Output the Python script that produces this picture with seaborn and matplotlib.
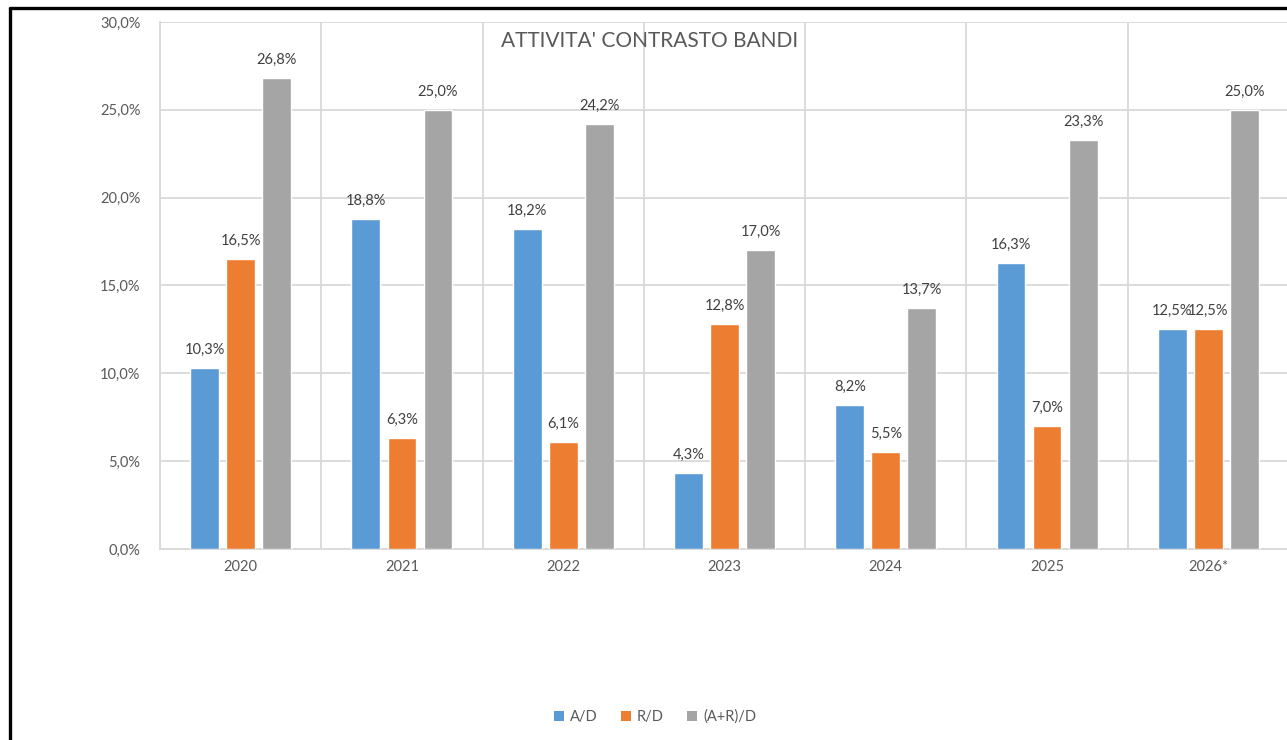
import numpy as np
import pandas as pd
import matplotlib
matplotlib.use('Agg')
import matplotlib.pyplot as plt
from matplotlib.lines import Line2D
from matplotlib.patches import Patch
import seaborn as sns

# dati
anni = ['2020', '2021', '2022', '2023', '2024', '2025', '2026*']
serie = ['A/D', 'R/D', '(A+R)/D']
a_d = [10.3, 18.8, 18.2, 4.3, 8.2, 16.3, 12.5]
r_d = [16.5, 6.3, 6.1, 12.8, 5.5, 7.0, 12.5]
ar_d = [26.8, 25.0, 24.2, 17.0, 13.7, 23.3, 25.0]
colori = ['#5B9BD5', '#ED7D31', '#A5A5A5']
y_ticks = [0, 5, 10, 15, 20, 25, 30]

df = pd.DataFrame({
    'anno': anni * 3,
    'serie': [s for s in serie for _ in anni],
    'valore': a_d + r_d + ar_d,
})

sns.set_style('white')
plt.rcParams['font.family'] = ['Lato', 'DejaVu Sans']
testo = '#595959'
griglia = '#D9D9D9'

fig = plt.figure(figsize=(12.87, 7.40), dpi=100)
ax = fig.add_axes([160 / 1287, 1 - 549 / 740, 1129 / 1287, 527 / 740])

sns.barplot(data=df, x='anno', y='valore', hue='serie', palette=colori,
            saturation=1, width=0.67, gap=0.2, ax=ax, legend=False, zorder=3)

def fmt(v):
    return f'{v:.1f}'.replace('.', ',') + '%'

for cont in ax.containers:
    ax.bar_label(cont, labels=[fmt(b.get_height()) for b in cont],
                 padding=8, fontsize=10.5, color='#404040')

ax.set_ylim(0, 30)
ax.set_xlim(-0.5, len(anni) - 0.5)
ax.set_yticks(y_ticks)
ax.set_yticklabels([fmt(v) for v in y_ticks], fontsize=10.5, color=testo)
ax.tick_params(axis='y', length=0, pad=14)
ax.tick_params(axis='x', which='major', length=0, pad=8, labelsize=10.5, labelcolor=testo)
ax.set_xticks(np.arange(-0.5, len(anni)), minor=True)
ax.tick_params(axis='x', which='minor', length=5, color=griglia, width=1.3)
ax.grid(axis='y', color=griglia, linewidth=1.3, zorder=0)
ax.grid(axis='x', which='minor', color=griglia, linewidth=1.3, zorder=0)
ax.set_axisbelow(True)
ax.set_xlabel('')
ax.set_ylabel('')
for s in ['top', 'right']:
    ax.spines[s].set_visible(False)
ax.spines['left'].set_color(griglia)
ax.spines['left'].set_linewidth(1.3)
ax.spines['bottom'].set_color(griglia)
ax.spines['bottom'].set_linewidth(1.3)

ax.text(650 / 1287, 1 - 41 / 740, "ATTIVITA' CONTRASTO BANDI", transform=fig.transFigure,
        ha='center', va='center', fontsize=15, color=testo)

handles = [Patch(facecolor=c, edgecolor='none') for c in colori]
fig.legend(handles, serie, loc='center', bbox_to_anchor=(655 / 1287, 1 - 717 / 740),
           ncol=3, frameon=False, fontsize=10.5, handlelength=0.7, handleheight=0.7,
           handletextpad=0.4, columnspacing=1.6, labelcolor=testo)

# cornice nera in alto e a sinistra
fig.add_artist(Line2D([9.5 / 1287, 9.5 / 1287], [1 - 8 / 740, 0], transform=fig.transFigure,
                      color='black', linewidth=2.4))
fig.add_artist(Line2D([9.5 / 1287, 1], [1 - 8 / 740, 1 - 8 / 740], transform=fig.transFigure,
                      color='black', linewidth=2.4))

fig.savefig('out.png', dpi=100)
